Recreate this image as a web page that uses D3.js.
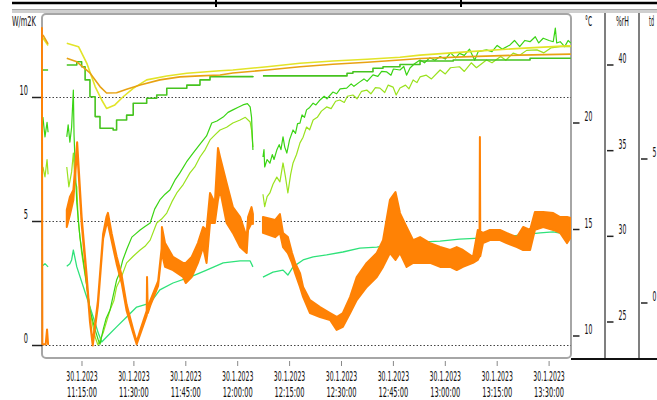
<!DOCTYPE html>
<html>
<head>
<meta charset="utf-8">
<script src="https://cdn.jsdelivr.net/npm/d3@7"></script>
<style>
  body { margin: 0; background: #fff; }
  text { font-family: "Liberation Sans Narrow", "DejaVu Sans Condensed", "Liberation Sans", sans-serif; fill: #111; }
</style>
</head>
<body>
<div id="chart"></div>
<script>
// all series: [minutes after 11:00 on 30.1.2023, value in W/m2K], null = logger gap
// orange band: [minutes, low, high]
const uValue = [
  [3.40, 12.8, 12.8], [3.55, 0.05, 0.05], [4.5, 0.05, 0.05], [4.9, 0.6, 0.65], [5.2, 0.05, 0.05],
  [7.0, null, null],
  [10.6, 4.78, 5.46], [11.5, 5.26, 5.99], [12.5, 5.87, 6.27], [13.6, 7.9, 8.2], [14.9, 4.9, 5.2],
  [16.4, 2.55, 2.75], [17.3, 0.95, 1.1], [18.1, 0.0, 0.1], [19.6, 1.6, 1.8], [21.1, 4.3, 4.5],
  [22.1, 4.9, 5.2], [22.5, 4.9, 5.35], [23.6, 4.2, 4.5], [25.0, 3.3, 3.6], [26.5, 2.5, 2.8],
  [27.9, 1.4, 1.65], [29.7, 0.55, 0.7], [30.8, 0.05, 0.15], [31.8, 0.45, 0.6], [33.7, 1.2, 1.4],
  [33.8, 1.3, 2.76], [34.0, 1.3, 1.45], [34.7, 1.6, 1.8], [37.0, 2.4, 2.6], [38.0, 3.7, 3.9],
  [38.1, 3.7, 4.78], [39.0, 3.17, 4.13], [41.3, 3.04, 3.57], [44.2, 2.76, 3.33], [45.0, 2.52, 3.33],
  [46.7, 2.76, 3.57], [48.5, 3.33, 4.13], [50.0, 3.97, 4.78], [51.0, 3.33, 4.66], [52.0, 4.94, 6.15],
  [53.4, 4.94, 5.75], [54.3, 5.87, 7.96], [54.9, 6.27, 7.60], [56.8, 4.94, 6.55], [58.6, 4.54, 5.58],
  [60.7, 3.97, 5.18], [62.6, 3.73, 4.37], [63.0, 4.66, 5.18], [64.0, 4.94, 5.58], [64.4, 4.9, 5.3],
  [65.5, null, null],
  [67.3, 4.54, 5.18], [70.8, 4.37, 5.06], [72.2, 4.54, 5.3], [73.1, 3.97, 4.54], [74.5, 3.73, 4.37],
  [75.7, 3.33, 3.73], [76.6, 2.92, 3.33], [78.0, 2.36, 2.92], [78.9, 1.96, 2.36], [80.9, 1.31, 1.83],
  [83.8, 1.15, 1.55], [86.7, 1.03, 1.31], [88.6, 0.63, 1.15], [90.4, 0.75, 1.31], [92.5, 1.31, 1.96],
  [94.4, 1.83, 2.76], [97.3, 2.36, 3.33], [100.2, 2.76, 3.73], [102.0, 3.17, 4.25], [104.0, 3.73, 5.87],
  [105.6, 3.45, 6.19], [106.9, 3.73, 5.34], [108.8, 3.17, 4.78], [110.7, 3.33, 4.25], [112.7, 3.33, 4.37],
  [115.6, 3.33, 4.13], [118.5, 3.17, 3.97], [121.4, 3.17, 3.85], [123.3, 3.04, 3.97], [125.1, 3.17, 3.85],
  [128.0, 3.33, 3.57], [129.4, 3.45, 4.66], [129.9, 3.6, 4.6], [130.0, 4.5, 8.41], [130.1, 3.6, 4.6],
  [130.9, 4.13, 4.54], [132.9, 4.25, 4.66], [135.8, 4.25, 4.66], [137.7, 4.13, 4.54], [140.7, 3.97, 4.37],
  [142.5, 3.85, 4.78], [144.5, 3.85, 4.66], [145.9, 4.66, 5.38], [148.3, 4.78, 5.38], [151.2, 4.66, 5.34],
  [153.2, 4.54, 5.18], [155.2, 4.13, 5.18], [156.3, 4.37, 5.14]
];

const goldLine = [
  [3.7, 12.52], [5.2, 12.16], [7.0, null],
  [10.6, 11.58], [13.5, 11.44], [17.3, 10.99], [20.2, 10.44], [22.1, 10.18], [25.0, 10.19],
  [27.9, 10.33], [31.8, 10.50], [37.5, 10.71], [43.3, 10.83], [49.1, 10.87], [54.9, 10.91],
  [58.6, 10.99], [68.5, 11.11], [78.0, 11.24], [87.5, 11.34], [97.4, 11.42], [106.9, 11.51],
  [112.7, 11.57], [127.0, 11.65], [141.6, 11.71], [156.3, 11.75]
];

const yellowLine = [
  [3.7, 12.4], [5.2, 12.1], [7.0, null],
  [10.6, 12.19], [14.0, 12.05], [16.4, 11.38], [18.8, 10.44], [20.7, 9.90], [22.1, 9.56],
  [24.5, 9.70], [26.9, 10.03], [29.8, 10.37], [33.7, 10.71], [39.5, 10.87], [45.3, 10.98],
  [54.9, 11.08], [58.6, 11.11], [68.5, 11.24], [78.0, 11.38], [87.5, 11.47], [97.4, 11.54],
  [106.9, 11.62], [112.7, 11.71], [127.0, 11.85], [141.6, 11.98], [155.2, 12.08], [156.3, 12.08]
];

const stepGreen = [
  [3.4, 11.11], [5.2, 11.11], [7.0, null],
  [10.6, 11.31], [13.5, 11.44], [14.9, 11.24], [15.9, 10.71], [17.3, 10.03], [18.8, 9.23],
  [20.2, 8.76], [24.0, 8.69], [25.0, 9.09], [27.9, 9.29], [29.8, 9.77], [33.7, 9.97], [36.6, 10.10],
  [39.5, 10.37], [45.3, 10.50], [49.1, 10.71], [52.0, 10.84], [64.4, 10.87], [65.5, null],
  [67.3, 10.87], [91.5, 10.87], [91.6, 10.98], [93.3, 11.04], [99.1, 11.18], [102.0, 11.24],
  [106.9, 11.33], [112.7, 11.47], [122.3, 11.51], [141.6, 11.51], [144.5, 11.58], [156.3, 11.58]
];

const brightGreen = [
  [3.7, 9.21], [4.3, 8.41], [4.9, 9.0], [5.2, 8.6], [7.0, null],
  [10.6, 8.41], [11.0, 8.9], [11.5, 8.2], [12.0, 8.8], [12.5, 10.3], [12.7, 8.5], [13.0, 7.36],
  [13.5, 5.75], [14.4, 4.37], [15.9, 2.92], [17.3, 1.43], [18.8, 0.63], [19.7, 0.22], [20.2, 0.05],
  [21.1, 0.63], [22.0, 1.1], [23.1, 1.43], [24.0, 2.0], [25.0, 2.64], [25.8, 2.9], [26.8, 3.45],
  [28.0, 3.9], [29.4, 4.37], [30.5, 4.5], [31.8, 4.66], [33.2, 4.8], [34.7, 4.94], [36.0, 5.5],
  [37.5, 5.87], [39.0, 6.1], [40.4, 6.27], [42.0, 6.7], [43.3, 6.96], [45.2, 7.4], [47.1, 7.76],
  [49.0, 8.1], [51.0, 8.45], [52.5, 8.97], [54.0, 9.05], [55.8, 9.21], [57.2, 9.4], [58.6, 9.50],
  [60.0, 9.6], [61.5, 9.70], [62.8, 9.75], [63.6, 9.62], [64.0, 9.21], [64.4, 7.88], [65.5, null],
  [67.3, 7.6], [67.6, 7.9], [67.8, 7.2], [68.5, 7.5], [69.3, 7.35], [70.0, 7.7], [70.5, 7.5],
  [71.3, 7.88], [72.0, 8.1], [72.5, 7.9], [73.1, 8.41], [73.6, 8.0], [74.2, 7.76], [75.0, 8.3],
  [76.0, 8.69], [76.7, 8.55], [77.3, 8.95], [78.0, 8.97], [78.6, 9.3], [79.3, 9.2], [79.9, 9.50],
  [80.8, 9.6], [81.8, 9.77], [82.6, 9.7], [83.8, 9.90], [85.0, 10.05], [85.8, 9.95], [87.5, 10.22],
  [88.6, 10.15], [89.6, 10.35], [91.5, 10.38], [92.8, 10.55], [93.6, 10.45], [95.3, 10.63],
  [96.5, 10.75], [97.4, 10.65], [99.1, 10.91], [100.5, 10.85], [101.6, 11.05], [103.1, 11.03],
  [104.3, 10.9], [105.0, 11.15], [106.9, 11.11], [108.0, 11.25], [108.8, 10.9], [109.8, 11.19],
  [111.0, 11.35], [112.7, 11.51], [114.0, 11.4], [115.5, 11.6], [117.0, 11.5], [118.5, 11.65],
  [120.0, 11.55], [121.5, 11.8], [123.0, 11.6], [124.1, 11.78], [125.5, 11.7], [127.0, 11.95],
  [128.5, 11.5], [129.5, 11.85], [131.9, 11.92], [133.5, 11.85], [135.0, 12.1], [136.5, 11.95],
  [138.7, 12.12], [140.0, 12.3], [141.5, 12.05], [143.0, 12.3], [144.5, 12.25], [146.0, 12.45],
  [147.0, 12.2], [148.3, 12.39], [150.0, 12.3], [151.2, 12.25], [151.8, 12.8], [152.2, 12.2],
  [153.2, 12.25], [154.5, 12.05], [155.5, 12.3], [156.3, 12.19]
];

const limeGreen = [
  [3.7, 7.2], [4.3, 6.8], [4.9, 7.5], [5.2, 6.9], [7.0, null],
  [10.6, 7.2], [11.2, 6.4], [12.0, 7.0], [12.5, 7.76], [13.0, 6.6], [13.5, 6.39], [13.9, 5.06],
  [14.9, 3.73], [16.4, 2.36], [17.8, 1.03], [18.8, 0.34], [19.6, 0.02], [21.1, 0.50], [23.1, 1.43],
  [24.2, 1.8], [25.0, 2.36], [26.5, 2.8], [27.9, 3.33], [29.8, 3.6], [31.8, 3.85], [33.2, 4.0],
  [34.7, 4.25], [36.6, 4.94], [38.0, 5.1], [39.5, 5.34], [41.0, 5.8], [42.4, 6.15], [44.3, 6.5],
  [46.2, 6.96], [47.6, 7.2], [49.1, 7.60], [50.6, 7.9], [52.0, 8.29], [53.5, 8.5], [54.9, 8.69],
  [56.8, 8.8], [58.6, 8.97], [60.7, 9.09], [62.2, 9.2], [63.6, 9.01], [64.0, 8.69], [64.4, 8.0],
  [65.5, null],
  [67.3, 6.1], [67.8, 5.6], [68.5, 6.0], [69.3, 6.15], [70.2, 6.5], [71.3, 6.79], [72.2, 6.6],
  [73.1, 7.36], [73.8, 6.8], [74.5, 6.15], [75.3, 6.9], [76.0, 7.36], [77.0, 7.7], [78.0, 8.17],
  [78.9, 8.4], [79.9, 8.81], [80.8, 8.7], [81.8, 9.09], [83.0, 9.2], [84.2, 9.45], [85.7, 9.62],
  [87.0, 9.55], [88.3, 9.85], [89.5, 9.90], [90.8, 9.8], [91.7, 10.05], [93.3, 10.10], [94.5, 9.95],
  [95.8, 10.25], [97.3, 10.30], [98.5, 10.15], [99.8, 10.4], [101.1, 10.38], [102.5, 10.2],
  [103.5, 10.5], [104.9, 10.42], [105.8, 10.1], [106.9, 10.38], [108.5, 10.5], [109.5, 10.35],
  [110.7, 10.71], [111.8, 10.6], [112.7, 10.83], [114.5, 10.9], [116.0, 10.75], [118.5, 11.11],
  [120.0, 10.95], [121.5, 11.2], [124.1, 11.24], [125.5, 11.05], [127.5, 11.4], [129.0, 11.2],
  [131.9, 11.51], [133.5, 11.4], [136.0, 11.65], [137.5, 11.5], [139.6, 11.79], [141.5, 11.7],
  [143.5, 11.9], [146.5, 11.92], [148.5, 11.8], [150.5, 12.0], [153.2, 12.05], [156.3, 12.05]
];

const mintGreen = [
  [3.4, 3.2], [4.3, 3.3], [5.2, 3.17], [7.0, null],
  [10.6, 3.2], [11.5, 3.3], [12.0, 3.45], [12.5, 3.85], [13.5, 3.17], [15.4, 2.36], [17.3, 1.55],
  [18.8, 0.91], [19.7, 0.50], [20.7, 0.14], [22.1, 0.34], [25.0, 0.75], [27.9, 1.15], [30.8, 1.55],
  [34.7, 1.71], [37.5, 2.24], [41.3, 2.52], [46.2, 2.76], [51.0, 3.04], [55.8, 3.33], [60.7, 3.41],
  [63.6, 3.41], [64.4, 3.17], [65.5, null],
  [67.3, 2.76], [70.2, 2.96], [73.1, 3.04], [74.5, 2.84], [76.0, 3.17], [78.9, 3.45], [81.8, 3.57],
  [85.7, 3.65], [90.4, 3.77], [95.3, 3.93], [100.2, 3.97], [104.9, 4.09], [109.8, 4.13], [112.7, 4.17],
  [118.5, 4.21], [124.1, 4.29], [130.0, 4.33], [135.8, 4.37], [141.6, 4.45], [147.4, 4.54],
  [151.2, 4.58], [156.3, 4.45]
];

// axis ticks
const uTicks = [0, 5, 10];
const tempTicks = [10, 15, 20];
const humTicks = [25, 30, 35, 40];
const dewTicks = [0, 5];
const timeTicks = [15, 30, 45, 60, 75, 90, 105, 120, 135, 150];

const W = 657, H = 400;
const plot = {left: 42, right: 571, top: 14, bottom: 358};
const t0 = new Date(2023, 0, 30, 11, 0, 0);
const toTime = m => new Date(t0.getTime() + m * 60000);

const svg = d3.select('#chart').append('svg')
    .attr('width', W)
    .attr('height', H);

// scales
const x = d3.scaleTime()
    .domain([toTime(3.44), toTime(156.33)])
    .range([plot.left, plot.right]);
const y = d3.scaleLinear().domain([0, 10]).range([345.5, 97.5]);
const yTemp = d3.scaleLinear().domain([10, 20]).range([336, 123]);
const yHum = d3.scaleLinear().domain([25, 40]).range([322, 65]);
const yDew = d3.scaleLinear().domain([0, 5]).range([303, 159]);

// squeezed text like the logger software uses: squash to a given width
function label(g, px, py, str, w, anchor) {
    const t = g.append('text')
        .attr('font-size', 14)
        .text(str);
    const natural = t.node().getComputedTextLength() || w;
    const dx = anchor === 'end' ? -w : anchor === 'middle' ? -w / 2 : 0;
    t.attr('transform', `translate(${px + dx},${py}) scale(${w / natural},1)`);
    return t;
}

//************** FRAME ******************//
svg.append('line').attr('x1', 12).attr('x2', W).attr('y1', 3).attr('y2', 3)
    .attr('stroke', '#000').attr('stroke-width', 2.5);
[216, 461].forEach(px => {
    svg.append('line').attr('x1', px).attr('x2', px).attr('y1', 0).attr('y2', 7)
        .attr('stroke', '#000').attr('stroke-width', 2);
});
svg.append('rect').attr('x', 12).attr('y', 9).attr('width', W - 12).attr('height', 4)
    .attr('fill', '#cfcfcf');
svg.append('line').attr('x1', 12).attr('x2', W).attr('y1', 9.5).attr('y2', 9.5)
    .attr('stroke', '#a8a8a8').attr('stroke-width', 1);

svg.append('rect')
    .attr('x', plot.left).attr('y', plot.top)
    .attr('width', plot.right - plot.left).attr('height', plot.bottom - plot.top)
    .attr('rx', 4)
    .attr('fill', '#fff')
    .attr('stroke', '#a6a6a6').attr('stroke-width', 2);

// right axis panels
[605, 639].forEach(px => {
    svg.append('line').attr('x1', px).attr('x2', px).attr('y1', 13).attr('y2', 359)
        .attr('stroke', '#555').attr('stroke-width', 1.5);
});
svg.append('line').attr('x1', plot.right).attr('x2', W).attr('y1', 359).attr('y2', 359)
    .attr('stroke', '#111').attr('stroke-width', 2);

//************** GRID + AXES ******************//
svg.append('g').selectAll('line').data(uTicks).join('line')
    .attr('x1', plot.left).attr('x2', plot.right)
    .attr('y1', d => y(d)).attr('y2', d => y(d))
    .attr('stroke', '#444').attr('stroke-width', 1)
    .attr('stroke-dasharray', '1.5,2');

const left = svg.append('g');
label(left, 12, 26, 'W/m2K', 24);
uTicks.forEach(v => {
    left.append('line').attr('x1', 32).attr('x2', plot.left).attr('y1', y(v)).attr('y2', y(v))
        .attr('stroke', '#222').attr('stroke-width', 1.5);
    label(left, 28, y(v) - 2.5, String(v), String(v).length * 4.2, 'end');
});

// right hand axes: tick mark, label sits just above it
function rightAxis(scale, ticks, x0, title, titleX, titleW) {
    const g = svg.append('g');
    label(g, titleX, 26, title, titleW);
    ticks.forEach(v => {
        g.append('line').attr('x1', x0).attr('x2', x0 + 6.5).attr('y1', scale(v)).attr('y2', scale(v))
            .attr('stroke', '#222').attr('stroke-width', 1.5);
        label(g, x0 + 11.5, scale(v) - 2, String(v), String(v).length * 3.9);
    });
}
rightAxis(yTemp, tempTicks, 573, '°C', 585, 7);
rightAxis(yHum, humTicks, 607, '%rH', 616, 13);
rightAxis(yDew, dewTicks, 641, 'td', 649, 5);

// time axis
const xAxis = svg.append('g');
timeTicks.forEach(m => {
    const px = x(toTime(m));
    xAxis.append('line').attr('x1', px).attr('x2', px).attr('y1', 361).attr('y2', 366)
        .attr('stroke', '#888').attr('stroke-width', 1);
    label(xAxis, px, 380.5, d3.timeFormat('%-d.%-m.%Y')(toTime(m)), 31.5, 'middle');
    label(xAxis, px, 396.5, d3.timeFormat('%H:%M:%S')(toTime(m)), 30, 'middle');
});

//************** SERIES ******************//
svg.append('clipPath').attr('id', 'clip')
    .append('rect').attr('x', plot.left - 1).attr('y', plot.top + 1)
    .attr('width', plot.right - plot.left + 1).attr('height', plot.bottom - plot.top - 2);

const series = svg.append('g').attr('clip-path', 'url(#clip)');

const line = d3.line()
    .defined(d => d[1] !== null)
    .x(d => x(toTime(d[0])))
    .y(d => y(d[1]));

function drawLine(data, colour, width, curve) {
    series.append('path')
        .datum(data)
        .attr('fill', 'none')
        .attr('stroke', colour)
        .attr('stroke-width', width)
        .attr('stroke-linejoin', 'round')
        .attr('d', line.curve(curve || d3.curveLinear));
}

drawLine(mintGreen, '#2fe27a', 1.3);
drawLine(limeGreen, '#9ae21e', 1.2);
drawLine(brightGreen, '#3ad414', 1.2);
drawLine(stepGreen, '#46c31f', 1.6, d3.curveStepAfter);
drawLine(yellowLine, '#e2e428', 1.6);
drawLine(goldLine, '#e8a212', 1.6);

// heat transfer coefficient drawn as a band
const band = d3.area()
    .defined(d => d[1] !== null)
    .x(d => x(toTime(d[0])))
    .y0(d => y(d[1]))
    .y1(d => y(d[2]));

series.append('path')
    .datum(uValue)
    .attr('fill', '#ff8205')
    .attr('stroke', '#ff8205')
    .attr('stroke-width', 2)
    .attr('stroke-linejoin', 'round')
    .attr('d', band);
</script>
</body>
</html>
